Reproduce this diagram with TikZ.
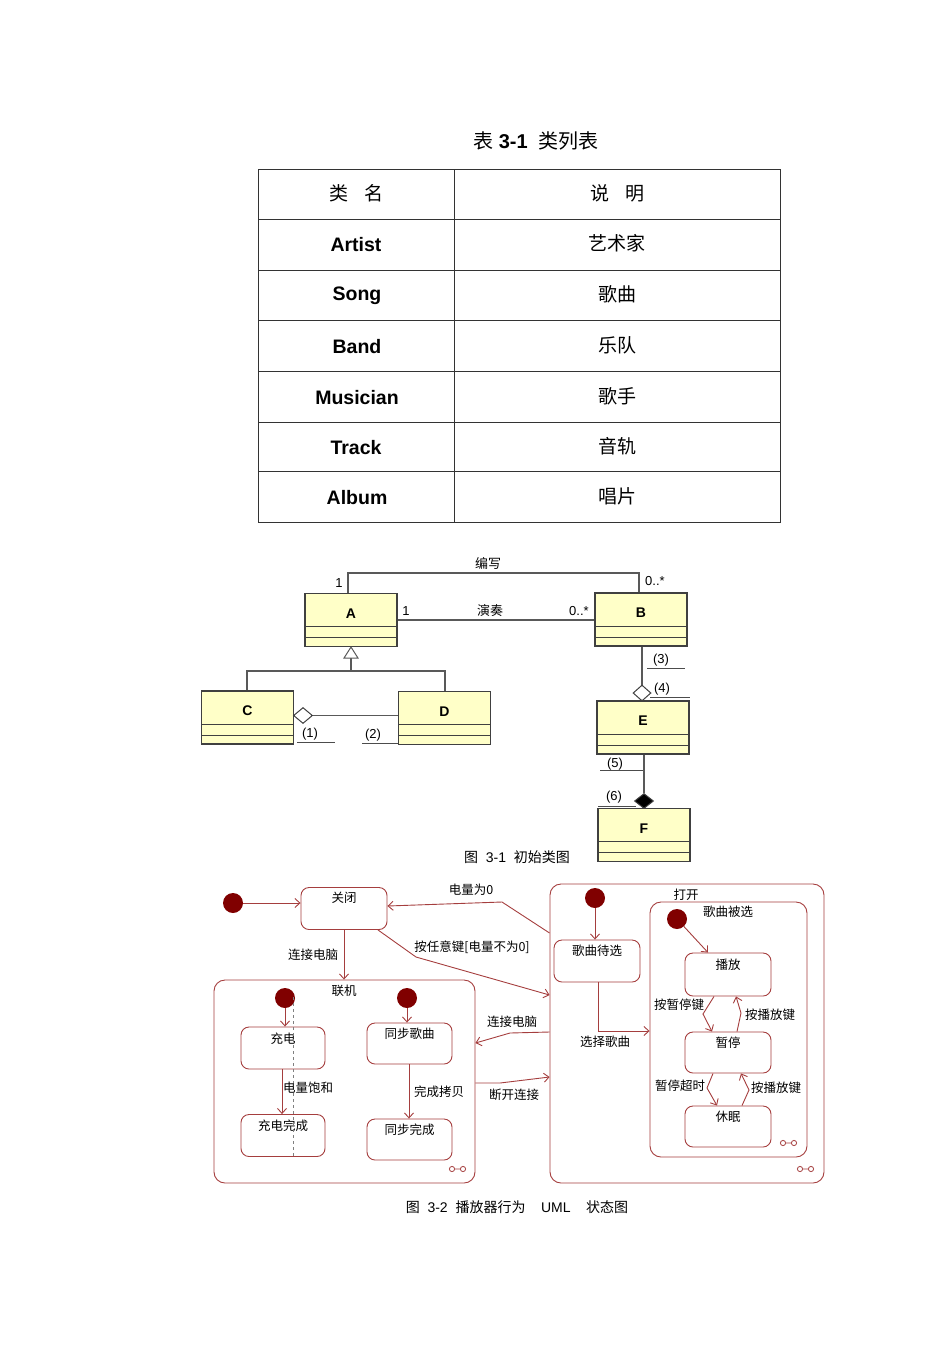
\documentclass[tikz,border=0pt]{standalone}
\usepackage{fontspec}
\setmainfont{Liberation Sans}
\newfontfamily\cjk{Noto Sans CJK SC}
\usetikzlibrary{arrows.meta,calc,shapes.geometric}
\definecolor{clsy}{RGB}{255,255,200}
\definecolor{sred}{RGB}{165,62,62}
\definecolor{dred}{RGB}{128,0,0}
\begin{document}
\begin{tikzpicture}[x=1pt,y=-1pt,
  tcn/.style={font=\cjk\fontsize{19}{20}\selectfont, inner sep=0pt},
  tbf/.style={font=\bfseries\fontsize{19.5}{20}\selectfont, inner sep=0pt},
  grid/.style={draw=black!80, line width=0.9pt},
  cls/.style={draw=black!75, line width=1.1pt, fill=clsy, minimum width=92pt, minimum height=53pt, inner sep=0pt,
    path picture={\draw[black!75,line width=1pt]
      ([yshift=-33pt]path picture bounding box.north west) -- ([yshift=-33pt]path picture bounding box.north east)
      ([yshift=-44pt]path picture bounding box.north west) -- ([yshift=-44pt]path picture bounding box.north east);}},
  cname/.style={font=\bfseries\fontsize{14}{14}\selectfont, inner sep=0pt},
  cl/.style={font=\fontsize{13}{13}\selectfont, inner sep=0pt},
  ccl/.style={font=\cjk\fontsize{13}{13}\selectfont, inner sep=0pt},
  cedge/.style={draw=black!65, line width=1.2pt},
  uline/.style={draw=black!70, line width=0.8pt},
  agg/.style={diamond, draw=black!75, line width=1pt, fill=white, inner sep=0pt, minimum width=19pt, minimum height=16pt},
  st/.style={draw=sred, line width=0.9pt, rounded corners=8pt, fill=white, minimum width=86pt, minimum height=42pt, inner sep=0pt},
  comp/.style={draw=sred, line width=0.9pt, rounded corners=11pt, fill=white, inner sep=0pt},
  stl/.style={font=\cjk\fontsize{12.5}{13}\selectfont, inner sep=0pt},
  init/.style={circle, fill=dred, minimum size=20pt, inner sep=0pt},
  tr/.style={draw=sred, line width=0.9pt, -{Straight Barb[length=5pt,width=9pt]}},
  captxt/.style={font=\fontsize{14}{14}\selectfont, inner sep=0pt}
]
\useasboundingbox (0,0) rectangle (950,1345);

% ---------------- Table ----------------
\node[font=\fontsize{20}{20}\selectfont, inner sep=0pt] (ttitle) at (536,141) {{\cjk 表} \textbf{3-1}\ \ {\cjk 类列表}};
\draw[grid] (258,169) rectangle (780,522);
\draw[grid] (454,169) -- (454,522);
\foreach \yy in {219,270,320,371,422,471} \draw[grid] (258,\yy) -- (780,\yy);
\node[tcn] (h1) at (356,193) {类\hspace{16pt}名};
\node[tcn] (h2) at (617,193) {说\hspace{16pt}明};
\node[tbf] (r1a) at (356,245) {Artist};   \node[tcn] (r1b) at (617,243) {艺术家};
\node[tbf] (r2a) at (357,296) {Song};     \node[tcn] (r2b) at (617,294) {歌曲};
\node[tbf] (r3a) at (357,347) {Band};     \node[tcn] (r3b) at (617,345) {乐队};
\node[tbf] (r4a) at (357,398) {Musician}; \node[tcn] (r4b) at (617,396) {歌手};
\node[tbf] (r5a) at (356,448) {Track};    \node[tcn] (r5b) at (617,446) {音轨};
\node[tbf] (r6a) at (357,498) {Album};    \node[tcn] (r6b) at (617,496) {唱片};

% ---------------- Class diagram ----------------
\node[cls] (A) at (351,620) {};
\node[cls] (B) at (641,619.5) {};
\node[cls] (C) at (247.5,717.5) {};
\node[cls] (D) at (444.5,718) {};
\node[cls] (E) at (643,727.5) {};
\node[cls] (F) at (644,835) {};
\node[cname] (An) at ($(A.north)+(0,20.5)$) {A};
\node[cname] (Bn) at ($(B.north)+(0,20.5)$) {B};
\node[cname] (Cn) at ($(C.north)+(0,20.5)$) {C};
\node[cname] (Dn) at ($(D.north)+(0,20.5)$) {D};
\node[cname] (En) at ($(E.north)+(0,20.5)$) {E};
\node[cname] (Fn) at ($(F.north)+(0,20.5)$) {F};

% 编写
\draw[cedge] (A.north -| 348,0) |- (639,573) -- (B.north -| 639,0);
\node[ccl] (bx) at (488,563) {编写};
\node[cl] (bx1) at (339,583) {1};
\node[cl] (bx2) at (655,581) {0..*};
% 演奏
\draw[cedge] (A.east |- 0,620) -- (B.west |- 0,620);
\node[ccl] (yz) at (490,611) {演奏};
\node[cl] (yz1) at (406,611) {1};
\node[cl] (yz2) at (579,611) {0..*};
% generalization
\coordinate (gj) at (351,671);
\draw[cedge] (C.north -| 247,0) |- (gj) -| (D.north -| 445,0);
\draw[cedge] (gj) -- (351,658);
\draw[cedge, line width=1pt, fill=white] (A.south -| 351,0) -- ++(-7,11) -- ++(14,0) -- cycle;
% aggregation C-D
\node[agg] (dg1) at (303,715.5) {};
\draw[cedge] (dg1.east) -- (D.west |- dg1.east);
\node[cl] (l1) at (310,734) {(1)};
\draw[uline] (297,742) -- (335,742);
\node[cl] (l2) at (373,735) {(2)};
\draw[uline] (362,743) -- (D.south west |- 0,743);
% aggregation B-E
\node[agg, minimum width=18pt] (dg2) at (642,693) {};
\draw[cedge] (B.south -| dg2.north) -- (dg2.north);
\node[cl] (l3) at (661,660) {(3)};
\draw[uline] (647,668) -- (685,668);
\node[cl] (l4) at (662,689) {(4)};
\draw[uline] (650,697) -- (690,697);
% composition E-F
\node[agg, fill=black, minimum width=19pt, minimum height=15pt] (dg3) at (644,801) {};
\draw[cedge] (E.south -| dg3.north) -- (dg3.north);
\node[cl] (l5) at (615,764) {(5)};
\draw[uline] (600,770) -- (643,770);
\node[cl] (l6) at (614,797) {(6)};
\draw[uline] (598,806) -- (636,806);
\node[captxt] (cap1) at (517,857) {{\cjk 图}\ \ 3-1\ \ {\cjk 初始类图}};

% ---------------- State diagram ----------------
\node[comp, minimum width=261pt, minimum height=203pt] (online) at (344.5,1081.5) {};
\node[comp, minimum width=274pt, minimum height=299pt] (open) at (687,1033.5) {};
\node[comp, minimum width=157pt, minimum height=255pt] (sel) at (728.5,1029.5) {};
\node[stl] (onlinet) at (344,991) {联机};
\node[stl] (opent) at (686,895) {打开};
\node[stl] (selt) at (728,912) {歌曲被选};

\node[init] (i1) at (233,903) {};
\node[st] (close) at (344,908.5) {};
\node[stl] at ($(close.north)+(0,11)$) {关闭};

\node[init] (i2) at (285,998) {};
\node[st, minimum width=84pt] (chg) at (283,1048) {};
\node[stl] at ($(chg.north)+(0,12)$) {充电};
\node[st, minimum width=84pt] (chgd) at (283,1135.5) {};
\node[stl] at ($(chgd.north)+(0,12)$) {充电完成};
\draw[gray, dashed, line width=0.8pt] (293,997) -- (293,1158);

\node[init] (i3) at (407,998) {};
\node[st, minimum width=85pt, minimum height=41pt] (sync) at (409.5,1043.5) {};
\node[stl] at ($(sync.north)+(0,11)$) {同步歌曲};
\node[st, minimum width=85pt, minimum height=41pt] (syncd) at (409.5,1139.5) {};
\node[stl] at ($(syncd.north)+(0,11)$) {同步完成};

\node[init] (i4) at (595,898) {};
\node[st] (wait) at (597,961) {};
\node[stl] at ($(wait.north)+(0,11)$) {歌曲待选};

\node[init] (i5) at (677,919) {};
\node[st, minimum height=43pt] (play) at (728,974.5) {};
\node[stl] at ($(play.north)+(0,12)$) {播放};
\node[st, minimum height=41pt] (pause) at (728,1052.5) {};
\node[stl] at ($(pause.north)+(0,11)$) {暂停};
\node[st, minimum height=41pt] (sleep) at (728,1126.5) {};
\node[stl] at ($(sleep.north)+(0,11)$) {休眠};

% transitions
\draw[tr] (i1) -- (close.west |- i1);
\draw[tr] (open.west |- 0,933) -- (502,902) -- (close.east |- 0,906);
\node[stl] (t1) at (471,890) {电量为0};
\draw[tr] (close.south -| 378,0) -- (416,957) -- (open.west |- 0,995);
\node[stl] (t2) at (472,947) {按任意键[电量不为0]};
\draw[tr] (close.south) -- (online.north -| close.south);
\node[stl] (t3) at (313,955) {连接电脑};

\draw[tr] (i2) -- (chg.north -| i2);
\draw[tr] (chg.south -| 282,0) -- (chgd.north -| 282,0);
\node[stl] (t4) at (308,1088) {电量饱和};
\draw[tr] (i3) -- (sync.north -| i3);
\draw[tr] (sync.south -| 409,0) -- (syncd.north -| 409,0);
\node[stl] (t5) at (439,1092) {完成拷贝};

\draw[tr] (open.west |- 0,1032) -- (510,1033) -- (online.east |- 0,1043);
\node[stl] (t6) at (512,1022) {连接电脑};
\draw[tr] (online.east |- 0,1083) -- (500,1083) -- (open.west |- 0,1077);
\node[stl] (t7) at (514,1095) {断开连接};

\draw[tr] (i4) -- (wait.north -| i4);
\draw[tr] (wait.south -| 598,0) |- (sel.west |- 0,1031);
\node[stl] (t8) at (605,1042) {选择歌曲};

\draw[tr] (i5) -- (play.north -| 708,0);
\draw[tr] (play.south -| 714,0) -- (703,1014) -- (pause.north -| 712,0);
\node[stl] (t9) at (679,1005) {按暂停键};
\draw[tr] (pause.north -| 737,0) -- (741,1013) -- (play.south -| 736,0);
\node[stl] (t10) at (770,1015) {按播放键};
\draw[tr] (pause.south -| 713,0) -- (707,1088) -- (sleep.north -| 717,0);
\node[stl] (t11) at (680,1086) {暂停超时};
\draw[tr] (sleep.north -| 742,0) -- (749,1090) -- (pause.south -| 741,0);
\node[stl] (t12) at (776,1088) {按播放键};

% decoration icons
\foreach \cx/\cy in {452/1169, 783/1143, 800/1169} {
  \draw[sred, line width=0.8pt] (\cx,\cy) circle[radius=2.6pt] (\cx+2.6,\cy) -- (\cx+8.4,\cy) (\cx+11,\cy) circle[radius=2.6pt];
}

\node[captxt] (cap2) at (517,1207) {{\cjk 图}\ \ 3-2\ \ {\cjk 播放器行为}\ \ \ \ UML\ \ \ \ {\cjk 状态图}};
\end{tikzpicture}
\end{document}
